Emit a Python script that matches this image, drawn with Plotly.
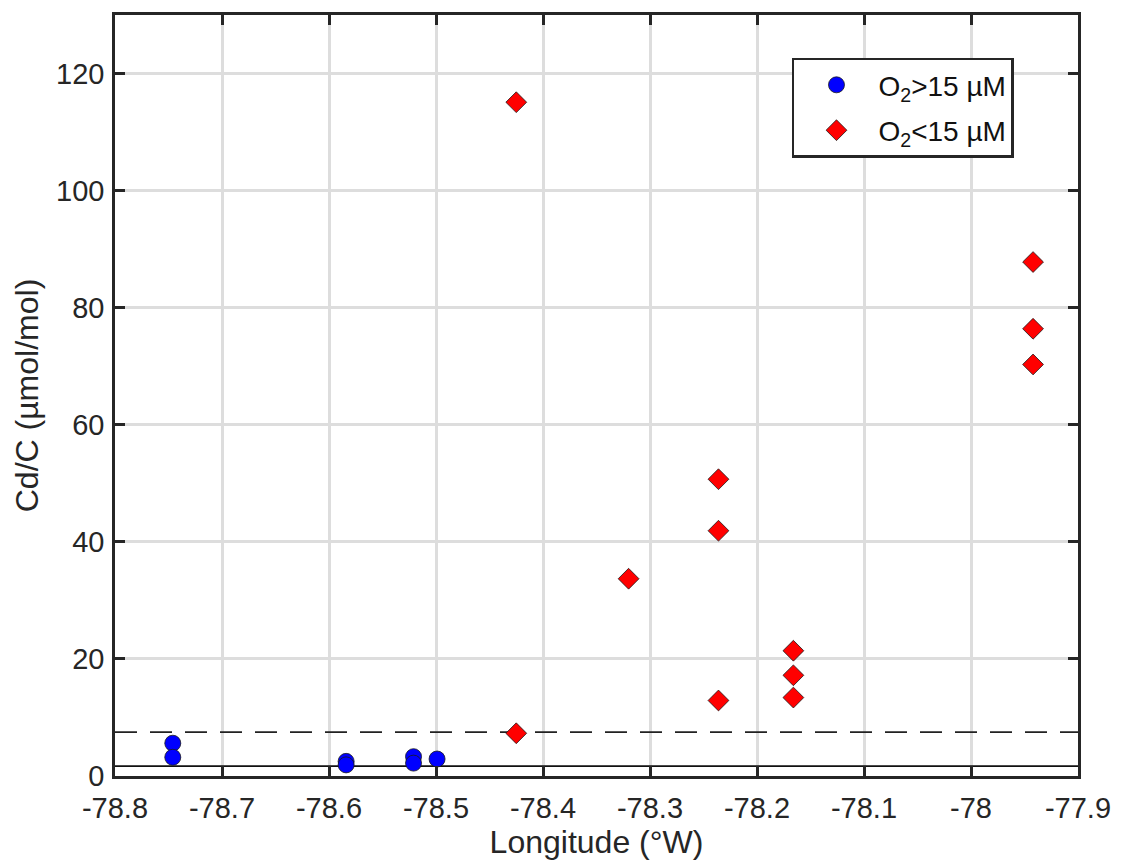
import plotly.graph_objects as go

# Stations with O2 above 15 µM
lon_oxic = [-78.746, -78.746, -78.584, -78.584, -78.521, -78.521, -78.499]
cdc_oxic = [5.6, 3.2, 2.5, 1.9, 3.3, 2.2, 2.9]

# Stations with O2 below 15 µM
lon_anoxic = [-78.425, -78.425, -78.320, -78.236, -78.236, -78.236,
              -78.166, -78.166, -78.166, -77.942, -77.942, -77.942]
cdc_anoxic = [115.1, 7.3, 33.7, 50.7, 41.9, 12.9,
              21.4, 17.2, 13.4, 87.8, 76.4, 70.3]

# Reference levels
ref_dashed = 7.5
ref_solid = 1.7

x_range = [-78.8, -77.9]
y_range = [0, 130]
x_ticks = [-78.8, -78.7, -78.6, -78.5, -78.4, -78.3, -78.2, -78.1, -78.0, -77.9]
x_ticktext = ["-78.8", "-78.7", "-78.6", "-78.5", "-78.4", "-78.3", "-78.2", "-78.1", "-78", "-77.9"]
y_ticks = [0, 20, 40, 60, 80, 100, 120]

font_family = "Liberation Sans, Arial, sans-serif"
ink = "#262626"

fig = go.Figure()

fig.add_trace(go.Scatter(
    x=x_range, y=[ref_dashed, ref_dashed], mode="lines",
    line=dict(color="#222222", width=1.8, dash="22px,13px"),
    showlegend=False, hoverinfo="skip"))
fig.add_trace(go.Scatter(
    x=x_range, y=[ref_solid, ref_solid], mode="lines",
    line=dict(color="#111111", width=1.8),
    showlegend=False, hoverinfo="skip"))

fig.add_trace(go.Scatter(
    x=lon_oxic, y=cdc_oxic, mode="markers", name="O<sub>2</sub>>15 µM",
    legendgroup="oxic",
    marker=dict(symbol="circle", size=16, color="#0000FF",
                line=dict(color="#1a1a1a", width=0.8))))
fig.add_trace(go.Scatter(
    x=lon_anoxic, y=cdc_anoxic, mode="markers", name="O<sub>2</sub><15 µM",
    legendgroup="anoxic",
    marker=dict(symbol="diamond", size=16, color="#FF0000",
                line=dict(color="#1a1a1a", width=0.8))))

axis_common = dict(
    showline=True, linecolor=ink, linewidth=2.5, mirror="ticks",
    ticks="inside", ticklen=10, tickwidth=2.5, tickcolor=ink,
    showgrid=True, gridcolor="#dddddd", gridwidth=2.5, zeroline=False,
    tickfont=dict(family=font_family, size=29, color=ink),
)

fig.update_xaxes(range=x_range, tickvals=x_ticks, ticktext=x_ticktext,
                 ticklabelstandoff=4,
                 title=dict(text="Longitude (°W)", standoff=4,
                            font=dict(family=font_family, size=32, color=ink)),
                 **axis_common)
fig.update_yaxes(range=y_range, tickvals=y_ticks,
                 ticklabelstandoff=2,
                 title=dict(text="Cd/C (µmol/mol)", standoff=8,
                            font=dict(family=font_family, size=32, color=ink)),
                 **axis_common)

fig.update_layout(
    width=1123, height=867,
    margin=dict(l=115, r=40, t=12, b=91),
    paper_bgcolor="white", plot_bgcolor="white",
    font=dict(family=font_family, color=ink),
    showlegend=True,
    legend=dict(x=0.703, y=0.944, xanchor="left", yanchor="top",
                bgcolor="white", bordercolor=ink, borderwidth=2.5,
                font=dict(family=font_family, size=28, color="#111111"),
                traceorder="grouped", tracegroupgap=6,
                itemwidth=74),
)

fig.write_html("out.html")
